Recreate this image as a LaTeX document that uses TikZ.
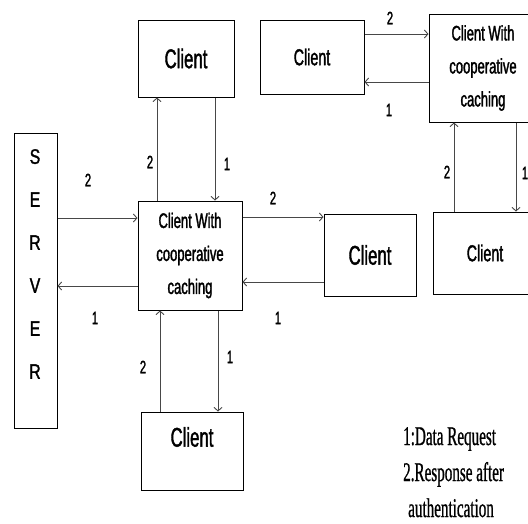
\documentclass[tikz,border=0pt]{standalone}
\usepackage{fontspec}
\setmainfont{Liberation Sans}
\newfontfamily\cfont[FakeStretch=0.62,FakeBold=1.5]{Liberation Sans}
\newfontfamily\sfont[FakeStretch=0.75,FakeBold=1.5]{Liberation Sans}
\newfontfamily\lfont[FakeStretch=0.56,FakeBold=0.8]{Liberation Serif}
\usetikzlibrary{arrows.meta}
\begin{document}
\begin{tikzpicture}[x=1pt,y=-1pt,
 box/.style={draw=black, line width=1pt, inner sep=0pt, align=center},
 arr/.style={draw=black!72, line width=0.9pt, -{Straight Barb[length=3.5pt,width=8pt]}},
 num/.style={font=\cfont\fontsize{18}{18}\selectfont},
 big/.style={font=\cfont\fontsize{27}{30}\selectfont},
 small/.style={font=\cfont\fontsize{23}{26}\selectfont},
 cache/.style={font=\cfont\fontsize{21}{33}\selectfont}]
\useasboundingbox (0,0) rectangle (528,523);
\clip (0,0) rectangle (528,523);
% boxes
\node[box, minimum width=43pt, minimum height=295pt] (srv) at (35.5,280.5) {};
\node[font=\sfont\fontsize{21}{43}\selectfont, align=center] (srvtxt) at (35,264) {S\\E\\R\\V\\E\\R};
\node[box, cache, minimum width=104pt, minimum height=109pt] (cc) at (190,255.5) {Client With\\cooperative\\caching};
\node[box, big, minimum width=96pt, minimum height=77pt] (ctop) at (186,58.5) {Client};
\node[box, small, minimum width=104pt, minimum height=74pt] (cmid) at (312,57) {Client};
\node[box, cache, minimum width=108pt, minimum height=108pt] (ctr) at (483,68) {Client With\\cooperative\\caching};
\node[box, big, minimum width=92pt, minimum height=82pt] (cright) at (370,255) {Client};
\node[box, small, minimum width=104pt, minimum height=82pt] (cfar) at (485,253) {Client};
\node[box, minimum width=102pt, minimum height=78pt, label={[big, yshift=14pt]center:Client}] (cbot) at (192,451) {};
% arrows
\draw[arr] (srv.east |- 0,218) -- (cc.west |- 0,218);
\draw[arr] (cc.west |- 0,286) -- (srv.east |- 0,286);
\draw[arr] (cc.north -| 157,0) -- (ctop.south -| 157,0);
\draw[arr] (ctop.south -| 215,0) -- (cc.north -| 215,0);
\draw[arr] (cc.east |- 0,217) -- (cright.west |- 0,217);
\draw[arr] (cright.west |- 0,282) -- (cc.east |- 0,282);
\draw[arr] (cbot.north -| 160,0) -- (cc.south -| 160,0);
\draw[arr] (cc.south -| 218,0) -- (cbot.north -| 218,0);
\draw[arr] (cmid.east |- 0,34) -- (ctr.west |- 0,34);
\draw[arr] (ctr.west |- 0,82) -- (cmid.east |- 0,82);
\draw[arr] (cfar.north -| 454,0) -- (ctr.south -| 454,0);
\draw[arr] (ctr.south -| 516,0) -- (cfar.north -| 516,0);
% labels
\node[num] (n1) at (88,180) {2};
\node[num] (n2) at (95,318) {1};
\node[num] (n3) at (150,162) {2};
\node[num] (n4) at (227,164) {1};
\node[num] (n5) at (273,198) {2};
\node[num] (n6) at (278,318) {1};
\node[num] (n7) at (143,367) {2};
\node[num] (n8) at (230,357) {1};
\node[num] (n9) at (390,18) {2};
\node[num] (n10) at (389,110) {1};
\node[num] (n11) at (447,172) {2};
\node[num] (n12) at (525,173) {1};
% legend
\node[font=\lfont\fontsize{27}{36}\selectfont, align=left, anchor=base west, inner sep=0pt] (legend) at (403,517) {1:Data Request\\2.Response after\\\hspace{5pt}authentication};
\end{tikzpicture}
\end{document}
